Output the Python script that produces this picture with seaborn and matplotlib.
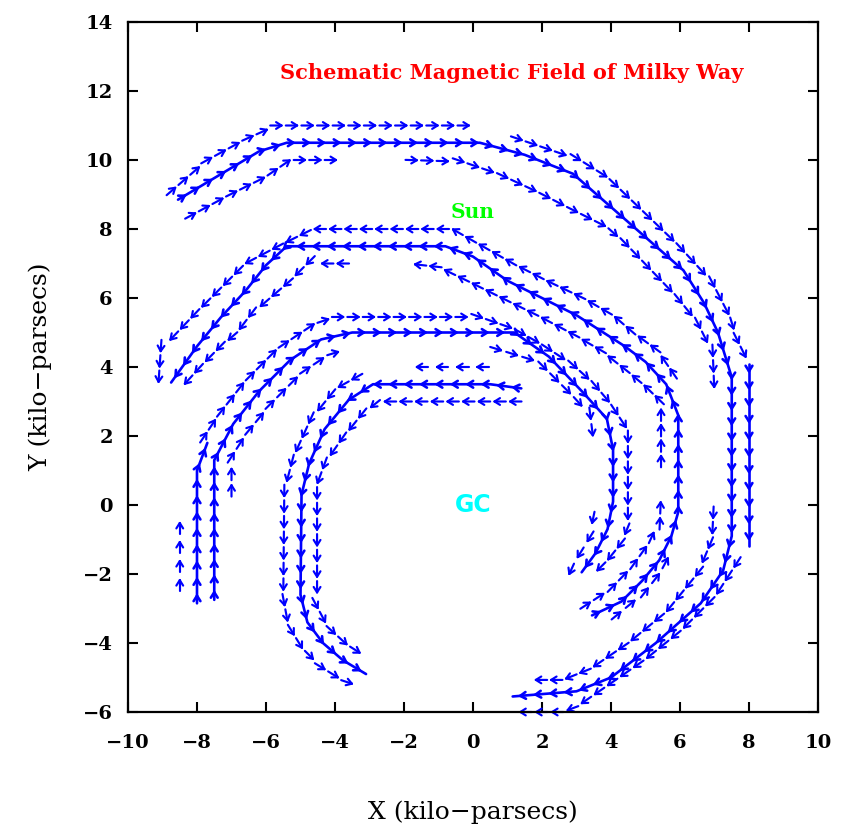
import matplotlib
matplotlib.use("Agg")
import matplotlib.pyplot as plt
from matplotlib import patheffects as pe
import pandas as pd
import seaborn as sns

# ---------------- data: field lines (kpc), each listed in the field direction ----------------
# Arm 1 (outermost, clockwise)
arm1_centre = [(-8.55, 8.85), (-6.2, 10.25), (-5.4, 10.5), (0.2, 10.5), (1.5, 10.15), (2.9, 9.6),
               (6.1, 6.8), (6.7, 5.85), (7.1, 5.0), (7.5, 3.7), (7.5, -0.9), (7.25, -1.9),
               (6.6, -2.85), (5.3, -4.0), (4.0, -5.0), (3.0, -5.4), (1.15, -5.55)]
arm1_out_top = [(-8.8, 9.05), (-7.7, 10.0), (-6.6, 10.6), (-5.7, 11.0), (0.1, 11.0)]
arm1_out_right = [(1.2, 10.65), (3.1, 10.0), (3.9, 9.5), (5.94, 7.54), (6.93, 6.46), (7.45, 5.45),
                  (7.65, 4.8), (8.0, 4.1)]
arm1_out_side = [(8.0, 4.1), (8.0, -1.2)]
arm1_out_bottom = [(7.7, -1.6), (7.02, -2.65), (6.04, -3.63), (5.0, -4.47), (3.86, -5.26),
                   (3.0, -5.85), (2.6, -6.0), (1.15, -6.0)]
arm1_in_left = [(-8.25, 8.35), (-7.04, 9.0), (-6.03, 9.5), (-5.3, 10.0), (-3.75, 10.0)]
arm1_in_right = [(-1.85, 10.0), (-0.3, 9.95), (0.78, 9.58), (1.86, 9.08), (2.9, 8.55), (3.88, 8.06),
                 (4.46, 7.54), (5.91, 6.03), (6.5, 5.3), (6.95, 4.4), (7.0, 3.2)]
arm1_in_bottom = [(6.97, -0.15), (6.93, -1.0), (6.52, -1.97), (5.6, -3.1), (4.5, -4.0),
                  (3.4, -4.75), (2.6, -5.07), (1.6, -5.07)]

# Arm 2 (counter-clockwise)
arm2_centre = [(3.45, -3.2), (4.3, -2.8), (4.9, -2.2), (5.4, -1.6), (5.75, -0.9), (5.95, -0.2),
               (5.95, 2.6), (5.6, 3.5), (5.0, 4.15), (4.4, 4.6), (3.0, 5.5), (1.0, 6.5), (0.0, 7.2),
               (-0.8, 7.5), (-5.4, 7.5), (-6.0, 6.95), (-6.6, 6.2), (-7.3, 5.45), (-8.0, 4.6),
               (-8.75, 3.55)]
arm2_out_bottom = [(4.1, -3.25), (4.99, -2.52), (5.42, -1.97), (5.75, -1.35)]
arm2_out_top = [(5.85, 3.75), (5.33, 4.5), (4.64, 5.0), (4.06, 5.5), (3.19, 6.0), (2.14, 6.5),
                (1.16, 7.0), (0.1, 7.6), (-0.6, 8.0), (-4.64, 8.0), (-5.65, 7.5), (-6.6, 7.0),
                (-7.1, 6.5), (-8.1, 5.5), (-9.05, 4.5), (-9.13, 3.35)]
arm2_in_bottom = [(3.2, -2.95), (3.97, -2.45), (4.6, -1.8), (5.1, -1.1), (5.42, -0.4), (5.45, 0.3)]
arm2_in_right = [(5.45, 1.2), (5.45, 3.0), (4.93, 3.5), (4.32, 4.0), (3.68, 4.5), (2.81, 5.0),
                 (1.86, 5.5), (0.84, 6.0), (-0.17, 6.5), (-1.0, 6.9), (-1.9, 7.0)]
arm2_in_left = [(-3.7, 7.0), (-4.8, 7.0), (-5.3, 6.5), (-5.88, 6.0), (-6.46, 5.5), (-6.84, 5.0),
                (-7.42, 4.5), (-7.91, 4.0), (-8.5, 3.35)]

# Arm 3 (clockwise)
arm3_far = [(-8.5, -2.4), (-8.5, -0.3)]
arm3_centre_a = [(-8.0, -2.85), (-8.0, 1.0), (-7.7, 1.8)]
arm3_centre = [(-7.5, -2.75), (-7.5, 1.3), (-6.95, 2.35), (-6.2, 3.3), (-5.3, 4.2), (-4.4, 4.8),
               (-3.5, 5.0), (1.2, 5.0), (2.2, 4.3), (3.2, 3.25), (3.88, 2.5), (4.06, 1.6),
               (4.06, 0.1), (3.9, -0.7), (3.55, -1.4), (3.15, -1.95)]
arm3_out = [(-7.85, 1.9), (-7.35, 2.65), (-6.6, 3.6), (-5.65, 4.55), (-4.6, 5.25), (-4.0, 5.45),
            (0.2, 5.45), (1.2, 5.1), (2.0, 4.65), (2.9, 4.06), (3.48, 3.54), (3.97, 2.96),
            (4.49, 2.17), (4.49, -0.64), (4.3, -1.1), (3.9, -1.6), (3.45, -2.05)]
arm3_in_left = [(-7.0, 0.35), (-7.0, 1.4), (-6.55, 2.1), (-5.8, 3.0), (-4.95, 3.85), (-4.2, 4.35),
                (-3.7, 4.5)]
arm3_in_right = [(0.6, 4.55), (1.9, 4.15), (2.9, 3.15), (3.4, 2.6), (3.5, 1.8)]
arm3_in_bottom = [(3.5, -0.3), (3.35, -1.0), (2.95, -1.65), (2.7, -2.2)]

# Arm 4 (innermost, counter-clockwise)
arm4_centre = [(1.4, 3.38), (0.5, 3.5), (-2.9, 3.5), (-3.6, 3.05), (-4.3, 2.2), (-4.75, 1.2),
               (-4.97, 0.3), (-5.0, -2.6), (-4.8, -3.4), (-4.35, -4.0), (-3.77, -4.5), (-3.1, -4.9)]
arm4_out_top = [(0.35, 4.0), (-1.85, 4.0)]
arm4_out = [(-3.3, 3.75), (-3.98, 3.37), (-4.72, 2.46), (-5.22, 1.36), (-5.47, 0.4), (-5.5, -2.7),
            (-5.35, -3.5), (-4.95, -4.15), (-4.4, -4.7), (-3.75, -5.1), (-3.3, -5.25)]
arm4_in = [(1.3, 3.0), (-2.75, 3.0), (-3.25, 2.6), (-3.85, 1.85), (-4.3, 1.2), (-4.52, 0.6),
           (-4.52, -2.95), (-4.2, -3.55), (-3.65, -4.05), (-3.1, -4.4)]

# lane name, points, arrow style ("long" = strong field core, "short" = weaker edge)
lanes = [
    ("arm1_centre", arm1_centre, "long"), ("arm1_out_side", arm1_out_side, "long"),
    ("arm1_out_top", arm1_out_top, "short"), ("arm1_out_right", arm1_out_right, "short"),
    ("arm1_out_bottom", arm1_out_bottom, "short"), ("arm1_in_left", arm1_in_left, "short"),
    ("arm1_in_right", arm1_in_right, "short"), ("arm1_in_bottom", arm1_in_bottom, "short"),
    ("arm2_centre", arm2_centre, "long"), ("arm2_out_bottom", arm2_out_bottom, "short"),
    ("arm2_out_top", arm2_out_top, "short"), ("arm2_in_bottom", arm2_in_bottom, "short"),
    ("arm2_in_right", arm2_in_right, "short"), ("arm2_in_left", arm2_in_left, "short"),
    ("arm3_centre", arm3_centre, "long"), ("arm3_centre_a", arm3_centre_a, "long"),
    ("arm3_far", arm3_far, "short"), ("arm3_out", arm3_out, "short"),
    ("arm3_in_left", arm3_in_left, "short"), ("arm3_in_right", arm3_in_right, "short"),
    ("arm3_in_bottom", arm3_in_bottom, "short"),
    ("arm4_centre", arm4_centre, "long"), ("arm4_out_top", arm4_out_top, "short"),
    ("arm4_out", arm4_out, "short"), ("arm4_in", arm4_in, "short"),
]

x_ticks = [-10, -8, -6, -4, -2, 0, 2, 4, 6, 8, 10]
y_ticks = [-6, -4, -2, 0, 2, 4, 6, 8, 10, 12, 14]

# ---------------- plotting ----------------
sns.set_theme(style="ticks")
plt.rcParams["font.family"] = ["DejaVu Serif", "DejaVu Sans"]
plt.rcParams["axes.unicode_minus"] = True

rows = []
for name, pts, kind in lanes:
    for i, (x, y) in enumerate(pts):
        rows.append({"lane": name, "kind": kind, "order": i, "x": x, "y": y})
df = pd.DataFrame(rows)

fig = plt.figure(figsize=(8.53, 8.33), dpi=100)
ax = fig.add_axes([128 / 853, 1 - 712 / 833, 690 / 853, 690 / 833])

SP = 11.0  # arrow spacing along a field line (points)
for kind, lw in (("short", 1.55), ("long", 1.9)):
    sub = df[df["kind"] == kind]
    n0 = len(ax.lines)
    sns.lineplot(data=sub, x="x", y="y", units="lane", estimator=None, sort=False,
                 color="#0000ff", lw=lw, ax=ax, legend=False)
    for ln in ax.lines[n0:]:
        fx = [pe.TickedStroke(spacing=SP, angle=148, length=0.42, capstyle="round"),
              pe.TickedStroke(spacing=SP, angle=-148, length=0.42, capstyle="round")]
        if kind == "short":
            fx.append(pe.TickedStroke(spacing=SP, angle=180, length=0.74, capstyle="round"))
        else:
            fx.insert(0, pe.Normal())
        ln.set_path_effects(fx)
        ln.set_clip_on(False)

ax.set_xlim(-10, 10)
ax.set_ylim(-6, 14)
ax.set_xticks(x_ticks)
ax.set_yticks(y_ticks)
ax.tick_params(direction="in", length=7, width=1.5, top=True, right=True,
               labelsize=14, colors="black")
ax.tick_params(axis="x", pad=16)
ax.tick_params(axis="y", pad=11)
for lab in ax.get_xticklabels() + ax.get_yticklabels():
    lab.set_fontweight("bold")
for sp in ax.spines.values():
    sp.set_color("black")
    sp.set_linewidth(1.6)
ax.set_xlabel("")
ax.set_ylabel("")

fig.text(473 / 853, 1 - 812 / 833, "X (kilo\u2212parsecs)", ha="center", va="center",
         fontsize=18, color="black")
fig.text(40 / 853, 1 - 367 / 833, "Y (kilo\u2212parsecs)", ha="center", va="center",
         rotation=90, fontsize=18, color="black")

ax.text(1.13, 12.52, "Schematic Magnetic Field of Milky Way", color="red", ha="center",
        va="center", fontsize=15, fontweight="bold")
ax.text(0.0, 8.5, "Sun", color="#00ff00", ha="center", va="center", fontsize=14.5,
        fontweight="bold")
ax.text(0.0, 0.0, "GC", color="#00ffff", ha="center", va="center", fontsize=17,
        fontweight="bold", family="DejaVu Sans")

fig.savefig("out.png", dpi=100, facecolor="white")
